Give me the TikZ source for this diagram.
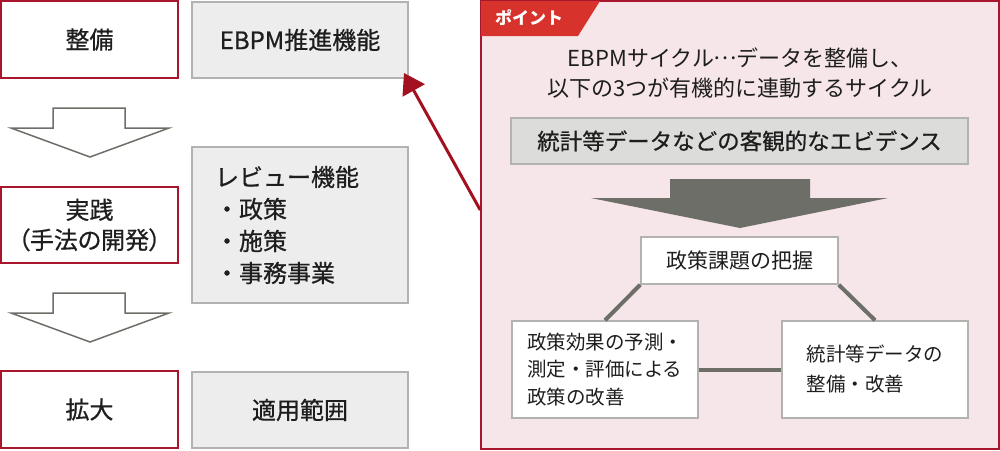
\documentclass[tikz,border=0pt]{standalone}
\usepackage{fontspec}
\setmainfont{Noto Sans CJK JP}
\newfontfamily\jpprop[RawFeature=+palt]{Noto Sans CJK JP}
\newfontfamily\jpmid[FakeBold=0.7]{Noto Sans CJK JP}
\usetikzlibrary{arrows.meta,calc}
\definecolor{ink}{HTML}{1E1E1E}
\definecolor{stagered}{HTML}{A8162E}
\definecolor{pointred}{HTML}{A3101F}
\definecolor{tabred}{HTML}{D7322B}
\definecolor{panelfill}{HTML}{F6E6E9}
\definecolor{rolefill}{HTML}{EDEDED}
\definecolor{evidfill}{HTML}{DCDCDA}
\definecolor{boxgray}{HTML}{B2B2B0}
\definecolor{arrowgray}{HTML}{6E6E68}
\begin{document}
\begin{tikzpicture}[
    x = 1pt, y = -1pt,
    stage/.style   = {draw=stagered, line width=2pt, fill=white, text=ink, minimum width=177pt, minimum height=77pt, align=center, font=\jpmid\fontsize{24}{30}\selectfont},
    role/.style    = {draw=boxgray, line width=2pt, fill=rolefill, text=ink, minimum width=216pt, minimum height=76pt, font=\jpmid\fontsize{24}{32}\selectfont},
    loopbox/.style = {draw=boxgray, line width=1.5pt, fill=white, text=ink, align=left, font=\fontsize{19.5}{27.5}\selectfont},
    hollow/.style  = {draw=arrowgray, line width=1.5pt, fill=white},
    link/.style    = {draw=arrowgray, line width=4pt},
    pointer/.style = {draw=pointred, line width=3pt, -{Triangle[length=20pt,width=25pt]}}
  ]
\useasboundingbox (0,0) rectangle (1000,450);
% left column: stages
\node[stage] (prep) at (89.5,39.5) {整備};
\node[stage, minimum height=76pt] (practice) at (89.5,225) {実践\\{\addfontfeatures{RawFeature=+palt}（手法の開発）}};
\node[stage] (expand) at (89.5,409.5) {拡大};
% hollow arrows between stages
\foreach \dy in {0,185}
  \draw[hollow] (53,108+\dy) -- (125,108+\dy) -- (125,128+\dy) -- (169,128+\dy)
    -- (90,157+\dy) -- (11,128+\dy) -- (53,128+\dy) -- cycle;
% middle column: functions
\node[role] (ebpm) at (300,40) {EBPM推進機能};
\node[role, minimum height=156pt, text width=170pt, inner xsep=23pt, align=left] (review) at (300,225)
  {レビュー機能\\・政策\\・施策\\・事務事業};
\node[role] (scope) at (300,410) {適用範囲};
% right panel
\node[draw=stagered, line width=1.5pt, fill=panelfill, minimum width=518pt, minimum height=448pt] (panel) at (740,225) {};
\fill[tabred] (481,1) -- (600,1) -- (578,36) -- (481,36) -- cycle;
\node[text=white, font=\bfseries\fontsize{17}{20}\selectfont] (tab) at (529,18) {ポイント};
\node[text=ink, align=center, font=\fontsize{22}{30}\selectfont] (title) at (740,73)
  {EBPMサイクル\makebox[1em]{\raisebox{0.33em}{…}}データを整備し、\\以下の3つが有機的に連動するサイクル};
\node[draw=boxgray, line width=1.5pt, fill=evidfill, text=ink, minimum width=457pt, minimum height=46pt, font=\jpmid\fontsize{22.5}{26}\selectfont] (evid) at (739.5,141)
  {統計等データなどの客観的なエビデンス};
% big arrow
\fill[arrowgray] (670,179) -- (810,179) -- (810,198) -- (888,198) -- (740,228) -- (591,198) -- (670,198) -- cycle;
% cycle
\node[loopbox, minimum width=197pt, minimum height=47pt, font=\fontsize{21}{26}\selectfont] (issue) at (739.5,260.5) {政策課題の把握};
\node[loopbox, minimum width=186pt, minimum height=97pt] (effect) at (605,369.5) {政策効果の予測・\\測定・評価による\\政策の改善};
\node[loopbox, minimum width=186pt, minimum height=97pt, font=\fontsize{19.5}{30}\selectfont] (data) at (875,369.5) {統計等データの\\整備・改善};
\draw[link] (issue.south west) -- (effect.north);
\draw[link] (issue.south east) -- (data.north);
\draw[link] (effect.east) -- (data.west);
% pointing arrow
\coordinate (src) at ($(panel.west)+(0,-15)$);
\draw[pointer] (src) -- ($(ebpm.south east)+(-5,-6)$);
%
\end{tikzpicture}
\end{document}
